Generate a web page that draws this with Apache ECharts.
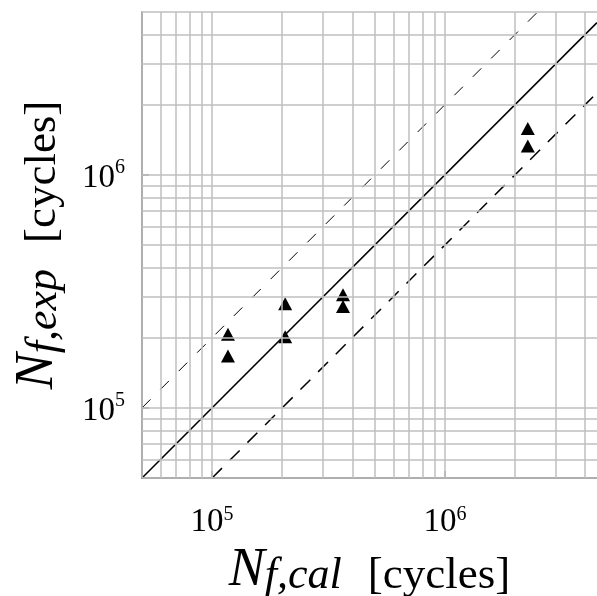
<!DOCTYPE html>
<html>
<head>
<meta charset="utf-8">
<script src="https://cdn.jsdelivr.net/npm/echarts@6/dist/echarts.min.js"></script>
<style>
  html, body { margin: 0; padding: 0; background: #fff; }
  #chart { width: 597px; height: 596px; }
</style>
</head>
<body>
<div id="chart"></div>
<script>
// Calculated vs. experimental fatigue life, log-log
const nfCal = [1.17e5, 1.17e5, 2.06e5, 2.06e5, 3.65e5, 3.65e5, 2.27e6, 2.27e6];
const nfExp = [2.07e5, 1.67e5, 2.80e5, 2.02e5, 3.06e5, 2.72e5, 1.58e6, 1.33e6];

// Axis ranges (cycles)
const xRange = [5e4, 4.5e6];
const yRange = [5e4, 5e6];

// Scatter band: N_exp = factor * N_cal
const bandFactors = [1, 2, 0.5];

// Log grid: multiples 1..9 of each decade
const gridMultiples = [1, 2, 3, 4, 5, 6, 7, 8, 9];
const gridDecades = [1e4, 1e5, 1e6];

const FONT = '"Liberation Serif", "Times New Roman", serif';

function gridValues(range) {
  const out = [];
  gridDecades.forEach(d => gridMultiples.forEach(m => {
    const v = m * d;
    if (v >= range[0] * 0.999 && v <= range[1] * 1.001) out.push(v);
  }));
  return out;
}

function bandLine(f) {
  const x0 = Math.max(xRange[0], yRange[0] / f);
  const x1 = Math.min(xRange[1], yRange[1] / f);
  return [[x0, f * x0], [x1, f * x1]];
}

function isDecade(v) {
  const l = Math.log10(v);
  return Math.abs(l - Math.round(l)) < 1e-6;
}

function powerLabel(v) {
  if (!isDecade(v)) return '';
  return '{b|10}{s|' + Math.round(Math.log10(v)) + '}';
}

function labelRich(padTop) {
  return {
    b: { fontFamily: FONT, fontSize: 33, lineHeight: 34, color: '#000', padding: [padTop, 0, 0, 0] },
    s: { fontFamily: FONT, fontSize: 20, lineHeight: 20, verticalAlign: 'top', color: '#000' }
  };
}

function titleRich() {
  return {
    n: { fontFamily: FONT, fontSize: 54, fontStyle: 'italic', lineHeight: 56, color: '#000' },
    sub: { fontFamily: FONT, fontSize: 44, fontStyle: 'italic', lineHeight: 20, verticalAlign: 'bottom', color: '#000' },
    u: { fontFamily: FONT, fontSize: 45, lineHeight: 48, verticalAlign: 'bottom', color: '#000', padding: [0, 0, 0, 26] }
  };
}

const axisCommon = {
  type: 'log',
  logBase: 10,
  z: 3,
  splitNumber: 5,
  axisLine: { show: true, lineStyle: { color: '#555', width: 1.5 } },
  axisTick: { show: true, inside: true, length: 7, lineStyle: { color: '#888', width: 1.5 } },
  splitLine: { show: false },
  nameLocation: 'middle'
};

const chart = echarts.init(document.getElementById('chart'), null, { renderer: 'canvas' });

const lineStyles = [
  { color: '#000', width: 1.6, type: 'solid' },
  { color: '#000', width: 1, type: [12, 14] },
  { color: '#000', width: 1.5, type: [14, 11] }
];

chart.setOption({
  backgroundColor: '#fff',
  animation: false,
  grid: {
    left: 142, right: 0, top: 12, bottom: 118,
    containLabel: false,
    outerBoundsMode: 'none'
  },
  xAxis: Object.assign({}, axisCommon, {
    min: xRange[0],
    max: xRange[1],
    name: '{n|N}{sub|f,cal}{u|[cycles]}',
    nameGap: 50,
    nameTextStyle: { rich: titleRich() },
    axisLabel: {
      margin: 27,
      showMinLabel: false,
      showMaxLabel: false,
      formatter: powerLabel,
      rich: labelRich(0)
    }
  }),
  yAxis: Object.assign({}, axisCommon, {
    min: yRange[0],
    max: yRange[1],
    name: '{n|N}{sub|f,exp}{u|[cycles]}',
    nameGap: 76,
    nameTextStyle: { rich: titleRich() },
    axisLabel: {
      margin: 17,
      showMinLabel: false,
      showMaxLabel: false,
      formatter: powerLabel,
      rich: labelRich(6)
    }
  }),
  series: [
    {
      type: 'line',
      data: [],
      z: 0,
      silent: true,
      markLine: {
        silent: true,
        animation: false,
        symbol: ['none', 'none'],
        label: { show: false },
        lineStyle: { color: '#bfbfbf', width: 1.5, type: 'solid' },
        data: gridValues(xRange).map(v => ({ xAxis: v }))
          .concat(gridValues(yRange).map(v => ({ yAxis: v })))
      }
    }
  ].concat(bandFactors.map((f, i) => ({
    type: 'line',
    data: bandLine(f),
    showSymbol: false,
    symbol: 'none',
    silent: true,
    z: 2,
    lineStyle: lineStyles[i]
  }))).concat([
    {
      type: 'scatter',
      data: nfCal.map((x, i) => [x, nfExp[i]]),
      symbol: 'triangle',
      symbolSize: [14, 13],
      itemStyle: { color: '#000', opacity: 1 },
      z: 4
    }
  ])
});
</script>
</body>
</html>
